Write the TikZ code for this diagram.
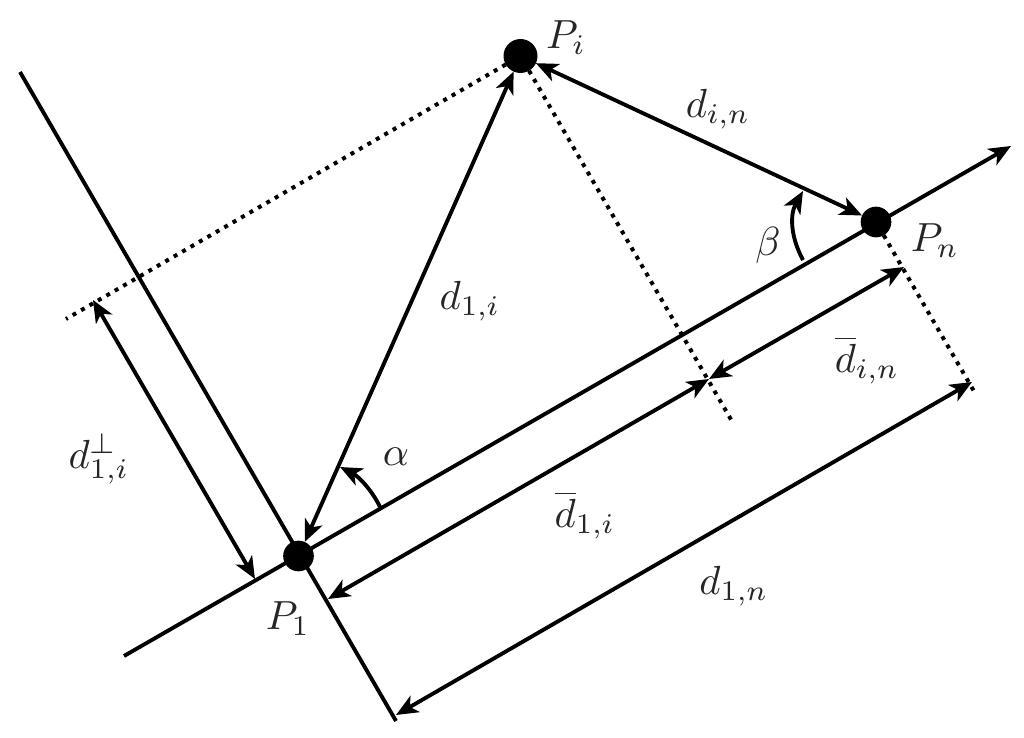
\documentclass[tikz,border=0pt]{standalone}
\usetikzlibrary{arrows.meta}
\tikzset{
 ln/.style={line width=2.9pt,black},
 arr/.style={ln,{Stealth[length=16.5pt,width=14pt,inset=4.5pt]}-{Stealth[length=16.5pt,width=14pt,inset=4.5pt]}},
 arrone/.style={ln,-{Stealth[length=16.5pt,width=14pt,inset=4.5pt]}},
 dotl/.style={line width=3pt,black,dash pattern=on 3pt off 4.3pt},
 pt/.style={circle,fill=black,inner sep=0pt,outer sep=0pt,minimum size=23pt},
 lab/.style={inner sep=0pt,scale=3.05,text=black!85}
}
\begin{document}
\begin{tikzpicture}[x=0.75pt,y=-0.75pt]
\useasboundingbox (0,0) rectangle (1024,738);
\node[pt] (p1) at (298.5,556) {};
\node[pt,minimum size=25.5pt] (pi) at (520.5,56) {};
\node[pt] (pn) at (876,222) {};
\coordinate (axS) at (124,656);
\coordinate (axE) at (1011,146);
\coordinate (perpS) at (20,72);
\coordinate (perpE) at (396,721);
\coordinate (dotL) at (66,319);
\coordinate (dotM) at (733,423);
\coordinate (dotN) at (975,393);
\coordinate (a1) at (255,579);
\coordinate (a2) at (93,300);
\coordinate (b1) at (328,599);
\coordinate (b2) at (709,379);
\coordinate (b3) at (904,267);
\coordinate (c1) at (396,715);
\coordinate (c2) at (972,382);
\coordinate (alS) at (380,507);
\coordinate (alE) at (340,467);
\coordinate (beS) at (803,260);
\coordinate (beE) at (803,191);
\draw[arrone] (axS) -- (axE);
\draw[ln] (perpS) -- (perpE);
\draw[dotl] (pi) -- (dotL);
\draw[dotl] (pi) -- (dotM);
\draw[dotl] (pn) -- (dotN);
\draw[arr] (pi) -- (p1);
\draw[arr] (pi) -- (pn);
\draw[arr] (a2) -- (a1);
\draw[arr] (b1) -- (b2);
\draw[arr] (b2) -- (b3);
\draw[arr] (c1) -- (c2);
\draw[arrone] (alS) .. controls (372,490) and (358,476) .. (alE);
\draw[arrone] (beS) .. controls (790,236) and (790,214) .. (beE);
\node[lab] (lpi) at (566,38) {$P_i$};
\node[lab] (lp1) at (288,619) {$P_1$};
\node[lab] (lpn) at (935,241) {$P_n$};
\node[lab] (ldin) at (718,109) {$d_{i,n}$};
\node[lab] (ld1i) at (470,301) {$d_{1,i}$};
\node[lab] (lperp) at (99,459) {$d_{1,i}^{\perp}$};
\node[lab] (lal) at (396,457) {$\alpha$};
\node[lab] (lbe) at (768,245) {$\beta$};
\node[lab] (lbdin) at (867,360) {$\overline{d}_{i,n}$};
\node[lab] (lbd1i) at (585,515) {$\overline{d}_{1,i}$};
\node[lab] (ld1n) at (734,586) {$d_{1,n}$};
\end{tikzpicture}
\end{document}
